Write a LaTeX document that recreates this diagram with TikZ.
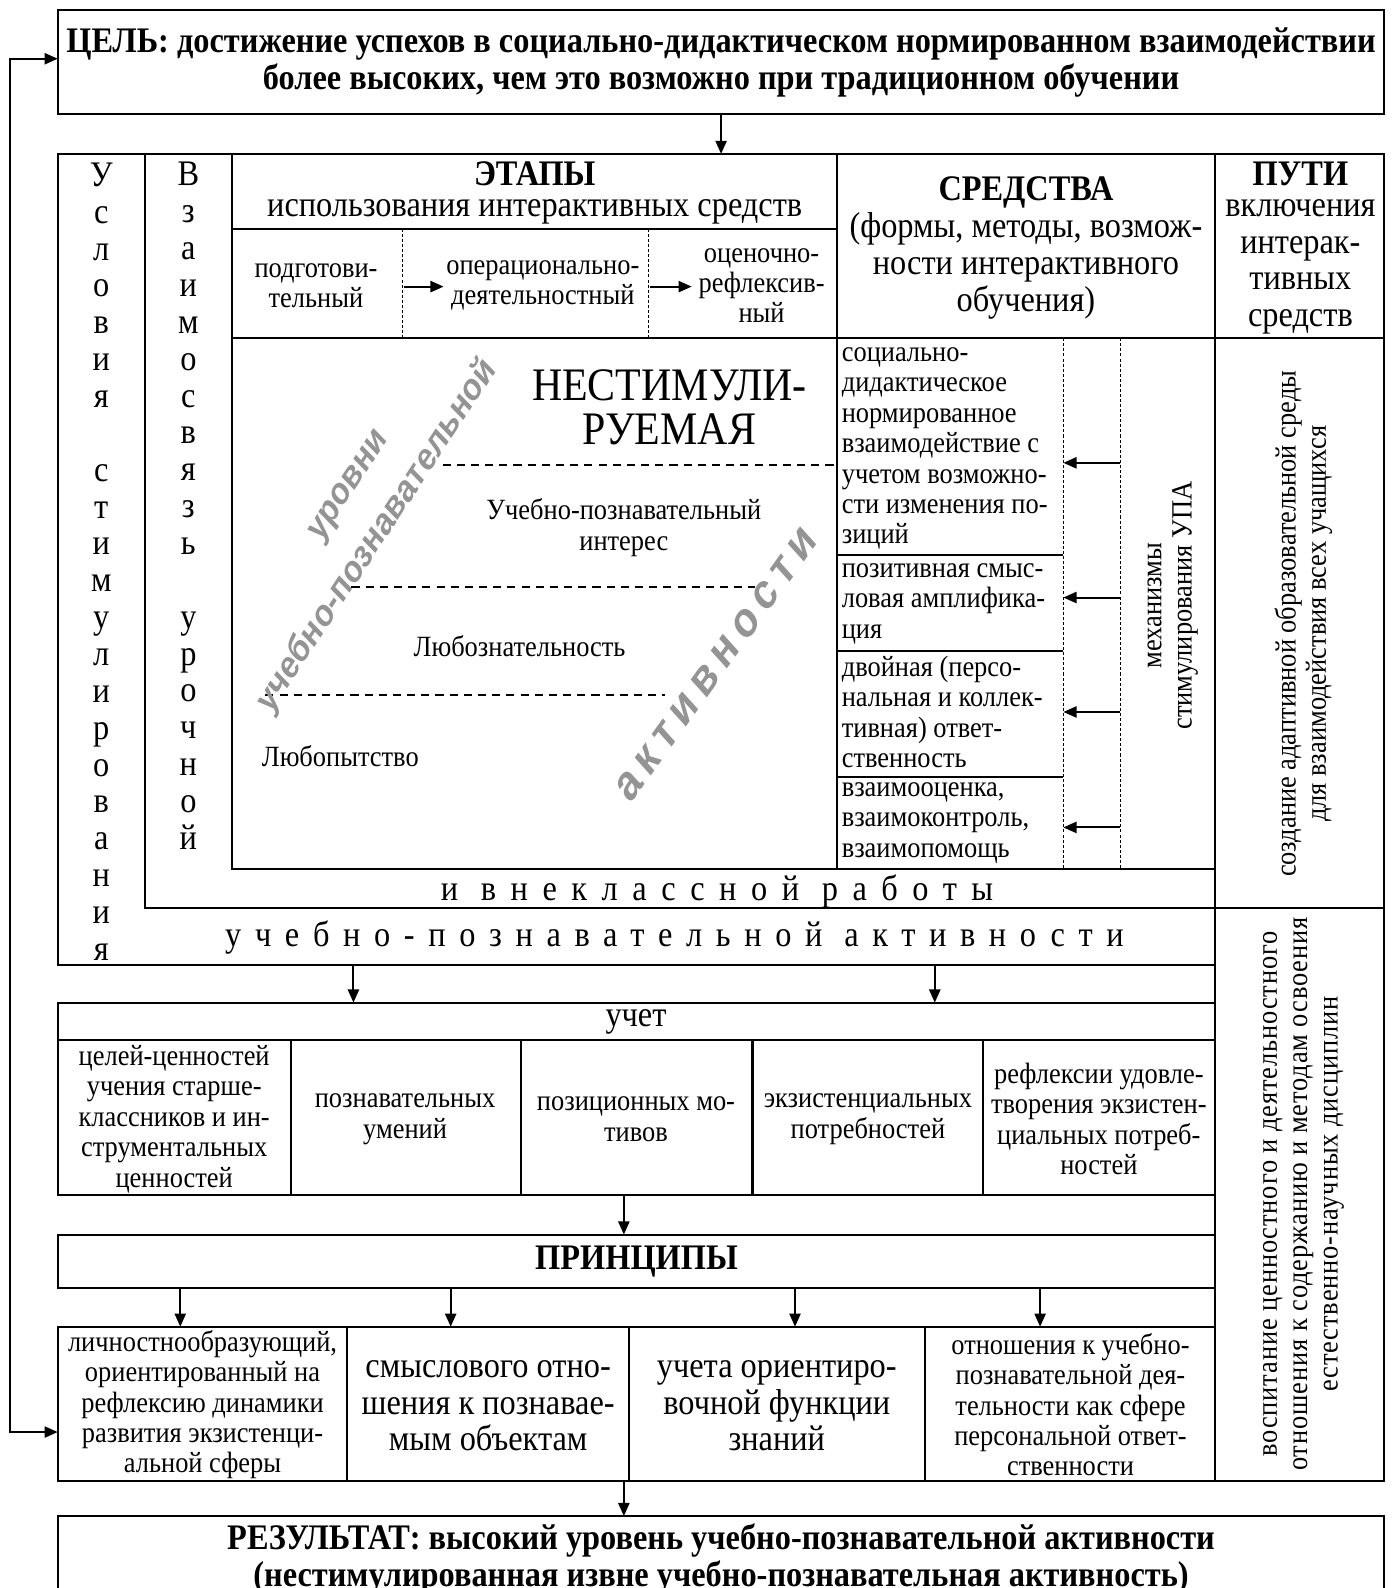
\documentclass[tikz,border=0pt]{standalone}
\usepackage{fontspec}
\setmainfont{Liberation Serif}[FakeStretch=0.9]
\newfontfamily\diagfont{Liberation Sans}[FakeSlant=0.22]
\usetikzlibrary{arrows.meta}
\definecolor{diaggray}{gray}{0.58}
\newcommand{\bigsz}{\fontsize{35.5}{36.4}\selectfont}
\newcommand{\smsz}{\fontsize{29}{30}\selectfont}
\newcommand{\hugesz}{\fontsize{46}{44}\selectfont}

\begin{document}
\begin{tikzpicture}[x=1pt,y=-1pt,
  frame/.style={line width=2pt},
  box/.style={draw,line width=2pt,inner sep=0pt,outer sep=0pt},
  thindash/.style={line width=0.8pt,dash pattern=on 3pt off 2pt},
  leveldash/.style={line width=1.8pt,dash pattern=on 8pt off 6pt},
  arr/.style={line width=2pt,-{Triangle[length=13pt,width=11pt]}},
  txt/.style={align=center,font=\bigsz,inner sep=0pt},
  small/.style={align=center,font=\smsz,inner sep=0pt},
  means/.style={align=left,anchor=west,font=\smsz,inner sep=0pt},
  diag/.style={font=\diagfont\bfseries\fontsize{34}{40}\selectfont,text=diaggray,inner sep=0pt}]
  \useasboundingbox (0,0) rectangle (1379,1568);
  % goal
  \node[box,minimum width=1310,minimum height=103,txt] (goal) at (712,61.5)
    {\textbf{ЦЕЛЬ: достижение успехов в социально-дидактическом нормированном взаимодействии}\\
     \textbf{более высоких, чем это возможно при традиционном обучении}};
  % main block
  \node[box,minimum width=1143,minimum height=801] (cond) at (628.5,552.5) {};
  \node[box,minimum width=1057,minimum height=745] (link) at (671.5,524.5) {};
  \node[box,minimum width=971,minimum height=706] (core) at (714.5,505) {};
  \node[box,minimum width=167,minimum height=1310] (ways) at (1283.5,807) {};
  \draw[frame] (229,226) -- (826,226);
  \draw[frame] (229,334) -- (1367,334);
  \draw[frame] (826,152) -- (826,858);
  \draw[frame] (1200,897) -- (1367,897);
  \foreach \x in {397,640} \draw[thindash] (\x,226) -- (\x,334);
  \foreach \x in {1050,1106} \draw[thindash] (\x,334) -- (\x,858);
  \foreach \y in {548,643,767} \draw[frame] (826,\y) -- (1050,\y);
  \draw[arr] (goal.south) -- (goal.south |- cond.north);
  \draw[line width=2pt,{Triangle[length=13pt,width=11pt]}-{Triangle[length=13pt,width=11pt]}]
    (goal.west |- 0,58) -| (10,1414) -- (57,1414);
  % vertical words
  \node[txt] (uslovia) at (100,554.5) {У\\с\\л\\о\\в\\и\\я\\~\\с\\т\\и\\м\\у\\л\\и\\р\\о\\в\\а\\н\\и\\я};
  \node[txt] (vzaim) at (186,499.5) {В\\з\\а\\и\\м\\о\\с\\в\\я\\з\\ь\\~\\у\\р\\о\\ч\\н\\о\\й};
  \node[txt,font=\bigsz\addfontfeature{LetterSpace=40.5}] (vneklass) at (708,880) {и внеклассной работы};
  \node[txt,font=\bigsz\addfontfeature{LetterSpace=38}] (upa) at (666,926) {учебно-познавательной активности};
  % headers
  \node[txt,font=\bigsz\bfseries] (etapy) at (528,172) {ЭТАПЫ};
  \node[txt] (etapy2) at (528,209) {использования интерактивных средств};
  \node[small] (st1) at (312,282) {подготови-\\тельный};
  \node[small] (st2) at (536,282) {операционально-\\деятельностный};
  \node[small] (st3) at (752,282) {оценочно-\\рефлексив-\\ный};
  \draw[arr] (399,283) -- (438,283);
  \draw[arr] (642,283) -- (683,283);
  \node[txt,font=\bigsz\bfseries] (sredstva) at (1013,190) {СРЕДСТВА};
  \node[txt] (sredstva2) at (1013,262.5) {(формы, методы, возмож-\\ности интерактивного\\обучения)};
  \node[txt,font=\bigsz\bfseries] (puti) at (1284,172) {ПУТИ};
  \node[txt] (puti2) at (1284,263.5) {включения\\интерак-\\тивных\\средств};
  % levels
  \node[txt,font=\hugesz] (nestim) at (661,402) {НЕСТИМУЛИ-\\РУЕМАЯ};
  \node[small] (interes) at (616,521) {Учебно-познавательный\\интерес};
  \node[small] (lyuboz) at (513,638) {Любознательность};
  \node[small] (lyubop) at (336,747) {Любопытство};
  \draw[leveldash] (437,459) -- (826,459);
  \draw[leveldash] (347,580) -- (745,580);
  \draw[leveldash] (262,686) -- (657,686);
  \node[diag,rotate=56.7] (urovni) at (345,482) {уровни};
  \node[diag,rotate=56.7] (urovni2) at (371,531) {учебно-познавательной};
  \node[diag,rotate=54.4,font=\diagfont\bfseries\fontsize{44}{46}\selectfont\addfontfeature{LetterSpace=18}] (aktivn) at (706,658) {активности};
  % means
  \node[means] (m1) at (831,443) {социально-\\дидактическое\\нормированное\\взаимодействие с\\учетом возможно-\\сти изменения по-\\зиций};
  \node[means] (m2) at (831,596) {позитивная смыс-\\ловая амплифика-\\ция};
  \node[means] (m3) at (831,703) {двойная (персо-\\нальная и коллек-\\тивная) ответ-\\ственность};
  \node[means] (m4) at (831,812.5) {взаимооценка,\\взаимоконтроль,\\взаимопомощь};
  \foreach \y in {457,590,703,817} \draw[arr] (1106,\y) -- (1050,\y);
  \node[small,rotate=90] (mech) at (1158,598) {механизмы\\стимулирования УПА};
  \node[small,rotate=90] (sozd) at (1287,616) {создание адаптивной образовательной среды\\для взаимодействия всех учащихся};
  \node[small,rotate=90,font=\smsz\addfontfeature{LetterSpace=3}] (vosp) at (1287,1179) {воспитание ценностного и деятельностного\\отношения к содержанию и методам освоения\\естественно-научных дисциплин};
  % uchet
  \node[box,minimum width=1143,minimum height=190] (uchet) at (628.5,1085) {};
  \draw[frame] (57,1027) -- (1200,1027);
  \foreach \x in {287,514,743,971} \draw[frame] (\x,1027) -- (\x,1180);
  \node[txt] (uchet0) at (628,1009) {учет};
  \node[small] (u1) at (172,1105) {целей-ценностей\\учения старше-\\классников и ин-\\струментальных\\ценностей};
  \node[small] (u2) at (400,1105) {познавательных\\умений};
  \node[small] (u3) at (628,1105) {позиционных мо-\\тивов};
  \node[small] (u4) at (857,1105) {экзистенциальных\\потребностей};
  \node[small] (u5) at (1085,1105) {рефлексии удовле-\\творения экзистен-\\циальных потреб-\\ностей};
  \foreach \x in {349,923} \draw[arr] (\x,0 |- cond.south) -- (\x,0 |- uchet.north);
  % principles
  \node[box,minimum width=1143,minimum height=53,txt,font=\bigsz\bfseries] (princ) at (628.5,1245.5) {ПРИНЦИПЫ};
  \draw[arr] (616,0 |- uchet.south) -- (616,0 |- princ.north);
  \node[box,minimum width=1143,minimum height=152] (prow) at (628.5,1386) {};
  \foreach \x in {343,621,913} \draw[frame] (\x,1310) -- (\x,1462);
  \foreach \x in {178,445,785,1027} \draw[arr] (\x,0 |- princ.south) -- (\x,0 |- prow.north);
  \node[small] (p1) at (200,1387) {личностнообразующий,\\ориентированный на\\рефлексию динамики\\развития экзистенци-\\альной сферы};
  \node[txt] (p2) at (482,1388) {смыслового отно-\\шения к познавае-\\мым объектам};
  \node[txt] (p3) at (767,1388) {учета ориентиро-\\вочной функции\\знаний};
  \node[small] (p4) at (1057,1387) {отношения к учебно-\\познавательной дея-\\тельности как сфере\\персональной ответ-\\ственности};
  % result
  \draw[frame] (57,1580) -- (57,1497) -- (1367,1497) -- (1367,1580);
  \coordinate (restop) at (616,1497);
  \draw[arr] (616,0 |- prow.south) -- (restop);
  \node[txt,font=\bigsz\bfseries] (result) at (712,1539)
    {РЕЗУЛЬТАТ: высокий уровень учебно-познавательной активности\\
     (нестимулированная извне учебно-познавательная активность)};
\end{tikzpicture}
\end{document}
